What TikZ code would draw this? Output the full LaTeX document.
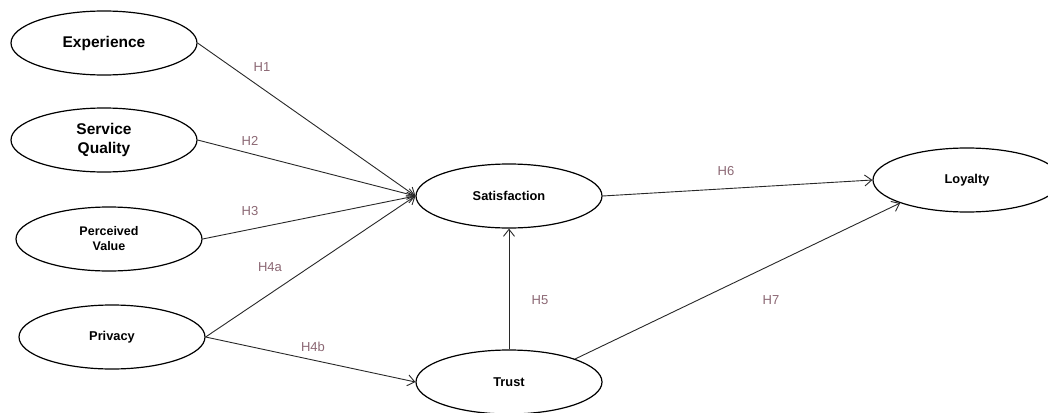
\documentclass[tikz,border=0pt]{standalone}
\usepackage{fontspec}
\setmainfont{Liberation Sans}
\usetikzlibrary{shapes.geometric,arrows.meta}
\definecolor{lbl}{RGB}{140,104,116}
\definecolor{edge}{RGB}{40,40,40}
\tikzset{
  construct/.style={ellipse, draw=black, line width=1.2pt, fill=white, minimum width=186pt, minimum height=64pt, inner sep=0pt, align=center, font=\bfseries\fontsize{12.8}{15}\selectfont},
  big/.style={font=\bfseries\fontsize{15.5}{19}\selectfont},
  small/.style={font=\bfseries\fontsize{12.5}{15}\selectfont},
  path/.style={draw=edge, line width=0.9pt, -{Straight Barb[length=7pt,width=11pt,line width=0.9pt]}},
  hyp/.style={text=lbl, font=\fontsize{13}{15}\selectfont}
}
\begin{document}
\begin{tikzpicture}[x=1pt,y=-1pt]
\useasboundingbox (0,0) rectangle (1048,412);
\fill[white] (0,0) rectangle (1048,412);
\node[construct,big] (exp) at (104,43) {Experience};
\node[construct,big] (sq) at (104,140) {Service\\Quality};
\node[construct,small] (pv) at (109,239) {Perceived\\Value};
\node[construct] (pr) at (112,337) {Privacy};
\node[construct] (sat) at (509,196) {Satisfaction};
\node[construct] (tr) at (509,382) {Trust};
\node[construct, minimum width=188pt] (loy) at (967,180) {Loyalty};
\draw[path] (exp.east) -- (sat.west);
\draw[path] (sq.east) -- (sat.west);
\draw[path] (pv.east) -- (sat.west);
\draw[path] (pr.east) -- (sat.west);
\draw[path] (pr.east) -- (tr.west);
\draw[path] (tr.north) -- (sat.south);
\draw[path] (sat.east) -- (loy.west);
\draw[path] (tr.north east) -- (loy.south west);
\node[hyp] (h1) at (262,67) {H1};
\node[hyp] (h2) at (250,141) {H2};
\node[hyp] (h3) at (250,211) {H3};
\node[hyp] (h4a) at (270,267) {H4a};
\node[hyp] (h4b) at (313,347) {H4b};
\node[hyp] (h5) at (540,300) {H5};
\node[hyp] (h6) at (726,171) {H6};
\node[hyp] (h7) at (771,300) {H7};
\end{tikzpicture}
\end{document}
